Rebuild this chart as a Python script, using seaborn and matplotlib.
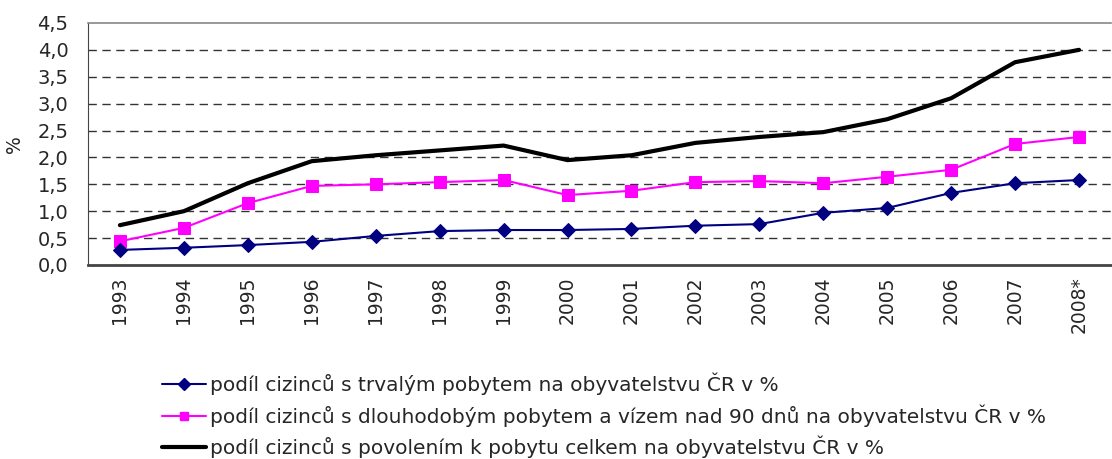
import numpy as np
import pandas as pd
import matplotlib
matplotlib.use('Agg')
import matplotlib.pyplot as plt
import seaborn as sns
from matplotlib.lines import Line2D

years = ['1993', '1994', '1995', '1996', '1997', '1998', '1999', '2000',
         '2001', '2002', '2003', '2004', '2005', '2006', '2007', '2008*']
trvaly = [0.28, 0.32, 0.37, 0.43, 0.54, 0.63, 0.65, 0.65,
          0.67, 0.73, 0.76, 0.97, 1.06, 1.34, 1.52, 1.58]
dlouhodoby = [0.44, 0.69, 1.15, 1.47, 1.50, 1.54, 1.58, 1.30,
              1.38, 1.54, 1.56, 1.52, 1.64, 1.77, 2.25, 2.38]
celkem = [0.74, 1.00, 1.52, 1.93, 2.04, 2.13, 2.22, 1.95,
          2.04, 2.27, 2.38, 2.47, 2.71, 3.10, 3.77, 4.00]
labels = ['podíl cizinců s trvalým pobytem na obyvatelstvu ČR v %',
          'podíl cizinců s dlouhodobým pobytem a vízem nad 90 dnů na obyvatelstvu ČR v %',
          'podíl cizinců s povolením k pobytu celkem na obyvatelstvu ČR v %']
yticks = [0.0, 0.5, 1.0, 1.5, 2.0, 2.5, 3.0, 3.5, 4.0, 4.5]

sns.set_style('white')
plt.rcParams['font.family'] = ['DejaVu Sans']

df = pd.DataFrame({'x': np.arange(len(years)), 'trvaly': trvaly,
                   'dlouhodoby': dlouhodoby, 'celkem': celkem})

fig = plt.figure(figsize=(11.12, 4.59), dpi=100)
ax = fig.add_axes([0.0791, 0.4227, 0.92, 0.5273])

# dashed grid lines
for v in yticks[1:-1]:
    ax.axhline(v, color='#333333', lw=1, ls=(0, (6, 4)), zorder=0)

sns.lineplot(data=df, x='x', y='celkem', ax=ax, color='black', lw=3, zorder=3)
sns.lineplot(data=df, x='x', y='dlouhodoby', ax=ax, color='#ff00ff', lw=1.5,
             marker='s', markersize=9, markeredgecolor='#ff00ff', zorder=4)
sns.lineplot(data=df, x='x', y='trvaly', ax=ax, color='#000080', lw=1.5,
             marker='D', markersize=7, markeredgecolor='#000080', zorder=5)

ax.set_xlim(-0.5, len(years) - 0.5)
ax.set_ylim(0, 4.5)
ax.set_yticks(yticks)
ax.set_yticklabels([f'{v:.1f}'.replace('.', ',') for v in yticks], fontsize=14)
ax.set_xticks(np.arange(-0.5, len(years), 1.0))
ax.set_xticklabels([])
ax.set_xticks(np.arange(len(years)), minor=True)
ax.set_xticklabels(years, minor=True, rotation=90, fontsize=13.5)
ax.tick_params(axis='x', which='major', direction='out', length=6, width=1, color='#444444')
ax.tick_params(axis='x', which='minor', length=0, pad=8)
ax.tick_params(axis='y', direction='out', length=6, width=1, color='#444444', pad=8)
ax.set_xlabel('')
ax.set_ylabel('%', fontsize=13.5, labelpad=10)

ax.spines['right'].set_visible(False)
ax.spines['top'].set_color('#888888')
ax.spines['top'].set_linewidth(1.2)
ax.spines['left'].set_color('#444444')
ax.spines['bottom'].set_color('#444444')
ax.spines['bottom'].set_linewidth(2)

handles = [Line2D([], [], color='#000080', lw=1.5, marker='D', markersize=6),
           Line2D([], [], color='#ff00ff', lw=1.5, marker='s', markersize=6),
           Line2D([], [], color='black', lw=3)]
fig.legend(handles, labels, loc='upper left', bbox_to_anchor=(0.138, 0.206),
           frameon=False, fontsize=14.5, handlelength=2.2, handletextpad=0.2,
           labelspacing=0.45, borderaxespad=0)

fig.savefig('out.png', dpi=100)
